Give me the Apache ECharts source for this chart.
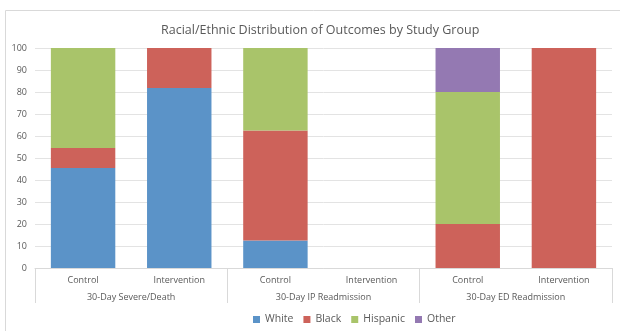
<!DOCTYPE html>
<html>
<head>
<meta charset="utf-8">
<script src="https://cdn.jsdelivr.net/npm/echarts@6/dist/echarts.min.js"></script>
<style>
html, body { margin: 0; padding: 0; background: #fff; }
#chart { width: 620px; height: 331px; }
</style>
</head>
<body>
<div id="chart"></div>
<script>
var groups = ['30-Day Severe/Death', '30-Day IP Readmission', '30-Day ED Readmission'];
var arms = ['Control', 'Intervention', 'Control', 'Intervention', 'Control', 'Intervention'];
var white = [45.5, 81.8, 12.5, 0, 0, 0];
var black = [9.1, 18.2, 50, 0, 20, 100];
var hispanic = [45.4, 0, 37.5, 0, 60, 0];
var other = [0, 0, 0, 0, 20, 0];

var font = '"Open Sans", "Noto Sans", sans-serif';
var gray = '#595959';

function bar(name, data, color) {
	return {
		name: name,
		type: 'bar',
		stack: 'total',
		barCategoryGap: '33%',
		data: data,
		itemStyle: { color: color }
	};
}

var chart = echarts.init(document.getElementById('chart'));

chart.setOption({
	animation: false,
	title: {
		text: 'Racial/Ethnic Distribution of Outcomes by Study Group',
		left: 156,
		top: 19,
		textStyle: { fontFamily: font, fontSize: 12.5, fontWeight: 'normal', color: gray }
	},
	graphic: [{
		type: 'rect',
		shape: { x: 5.5, y: 10.5, width: 640, height: 340 },
		style: { fill: null, stroke: '#d9d9d9', lineWidth: 1 }
	}],
	legend: {
		data: ['White', 'Black', 'Hispanic', 'Other'],
		bottom: 1,
		left: 248,
		icon: 'rect',
		itemWidth: 7,
		itemHeight: 7,
		itemGap: 10,
		textStyle: { fontFamily: font, fontSize: 10.5, color: gray }
	},
	grid: { left: 35, right: 8, top: 48, bottom: 63 },
	xAxis: [{
		type: 'category',
		data: arms,
		axisLine: { lineStyle: { color: '#d9d9d9' } },
		axisTick: { show: false },
		axisLabel: { margin: 8, fontFamily: font, fontSize: 9, color: gray }
	}, {
		type: 'category',
		data: groups,
		position: 'bottom',
		axisLine: { show: false },
		axisTick: { show: true, length: 35, lineStyle: { color: '#d9d9d9' } },
		axisLabel: { margin: 25, fontFamily: font, fontSize: 9, color: gray }
	}],
	yAxis: {
		type: 'value',
		min: 0,
		max: 100,
		interval: 10,
		axisLine: { show: false },
		axisTick: { show: false },
		splitLine: { lineStyle: { color: '#e3e3e3' } },
		axisLabel: { margin: 8, fontFamily: font, fontSize: 9, color: gray }
	},
	series: [
		bar('White', white, '#5b93c8'),
		bar('Black', black, '#cd625a'),
		bar('Hispanic', hispanic, '#a9c46a'),
		bar('Other', other, '#9479b2')
	]
});
</script>
</body>
</html>
